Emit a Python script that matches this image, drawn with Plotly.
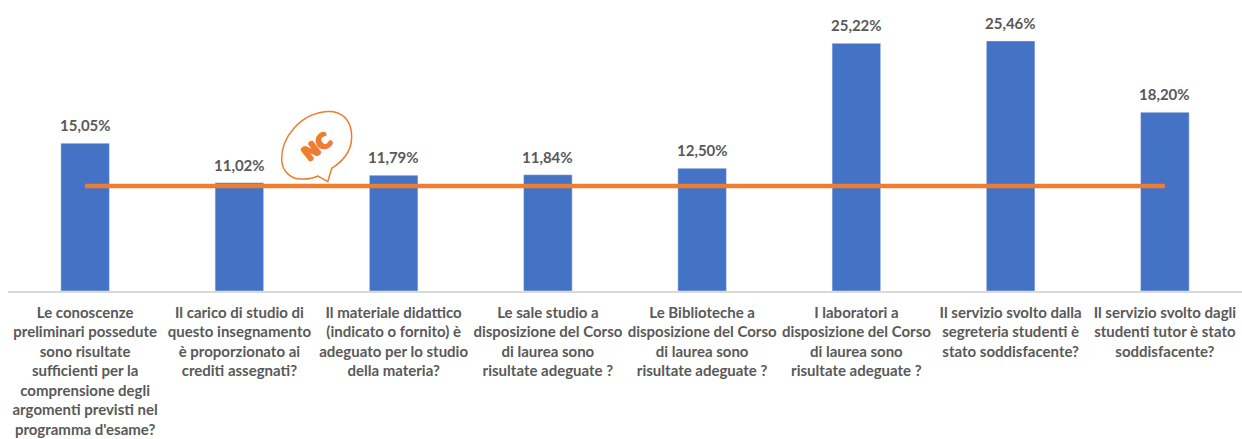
import plotly.graph_objects as go

categories = [
    "Le conoscenze<br>preliminari possedute<br>sono risultate<br>sufficienti per la<br>comprensione degli<br>argomenti previsti nel<br>programma d'esame?",
    "Il carico di studio di<br>questo insegnamento<br>è proporzionato ai<br>crediti assegnati?",
    "Il materiale didattico<br>(indicato o fornito) è<br>adeguato per lo studio<br>della materia?",
    "Le sale studio a<br>disposizione del Corso<br>di laurea sono<br>risultate adeguate ?",
    "Le Biblioteche a<br>disposizione del Corso<br>di laurea sono<br>risultate adeguate ?",
    "I laboratori a<br>disposizione del Corso<br>di laurea sono<br>risultate adeguate ?",
    "Il servizio svolto dalla<br>segreteria studenti è<br>stato soddisfacente?",
    "Il servizio svolto dagli<br>studenti tutor è stato<br>soddisfacente?",
]
values = [15.05, 11.02, 11.79, 11.84, 12.50, 25.22, 25.46, 18.20]
labels = ["15,05%", "11,02%", "11,79%", "11,84%", "12,50%", "25,22%", "25,46%", "18,20%"]
reference = [10.7] * 8

GRAY = "#595959"
ORANGE = "#ED7D31"
FONT = "Lato"
L, R, T, BASE = 8, 1242, 0, 291


def px(x, y):
    return f"{(x - L) / (R - L):.5f},{(BASE - y) / (BASE - T):.5f}"


balloon = (
    f"M{px(327.7, 181.7)} L{px(331.7, 168.3)} "
    f"C{px(345, 160)} {px(353, 148)} {px(351.5, 133)} "
    f"C{px(350, 118)} {px(340, 111)} {px(328, 111.5)} "
    f"C{px(300, 113)} {px(281, 138)} {px(281.7, 160)} "
    f"C{px(282, 172)} {px(292, 180)} {px(303, 179)} "
    f"C{px(309, 179)} {px(314, 178)} {px(318, 176)} Z"
)

value_labels = [
    dict(x=c, y=v, text=t, showarrow=False, yanchor="bottom", yshift=7,
         font=dict(family=FONT, size=15, color=GRAY, weight="bold"))
    for c, v, t in zip(categories, values, labels)
]

fig = go.Figure()
fig.add_trace(go.Bar(x=categories, y=values, marker_color="#4472C4", width=0.315))
fig.add_trace(go.Scatter(
    x=categories, y=reference, mode="lines",
    line=dict(color=ORANGE, width=4.5),
))
fig.update_layout(
    width=1242, height=439, showlegend=False, autosize=False,
    margin=dict(l=L, r=1242 - R, t=T, b=439 - BASE, pad=0),
    plot_bgcolor="white", paper_bgcolor="white",
    font=dict(family=FONT, color=GRAY),
    xaxis=dict(
        showline=True, linecolor="#D9D9D9", linewidth=1.5, ticks="", tickangle=0,
        tickfont=dict(family=FONT, size=15, color=GRAY, weight="bold"),
        showgrid=False, zeroline=False, ticklabelstandoff=7, automargin=False,
    ),
    yaxis=dict(range=[0, 29.63], visible=False, automargin=False),
    shapes=[dict(
        type="path", xref="paper", yref="paper", path=balloon,
        line=dict(color=ORANGE, width=1.5), fillcolor="white", layer="below",
    )],
    annotations=value_labels + [dict(
        x=(316.5 - L) / (R - L), y=(BASE - 146.5) / (BASE - T), xref="paper", yref="paper",
        xanchor="center", yanchor="middle",
        text="<b>NC</b>", showarrow=False, textangle=-38,
        font=dict(family="DejaVu Sans", size=20, color=ORANGE,
                  shadow=f"1px 0 {ORANGE}, -1px 0 {ORANGE}, 0 1px {ORANGE}, 0 -1px {ORANGE}"),
    )],
)
fig.write_html("out.html", config={"displayModeBar": False},
               post_script="document.body.style.margin='0';")
